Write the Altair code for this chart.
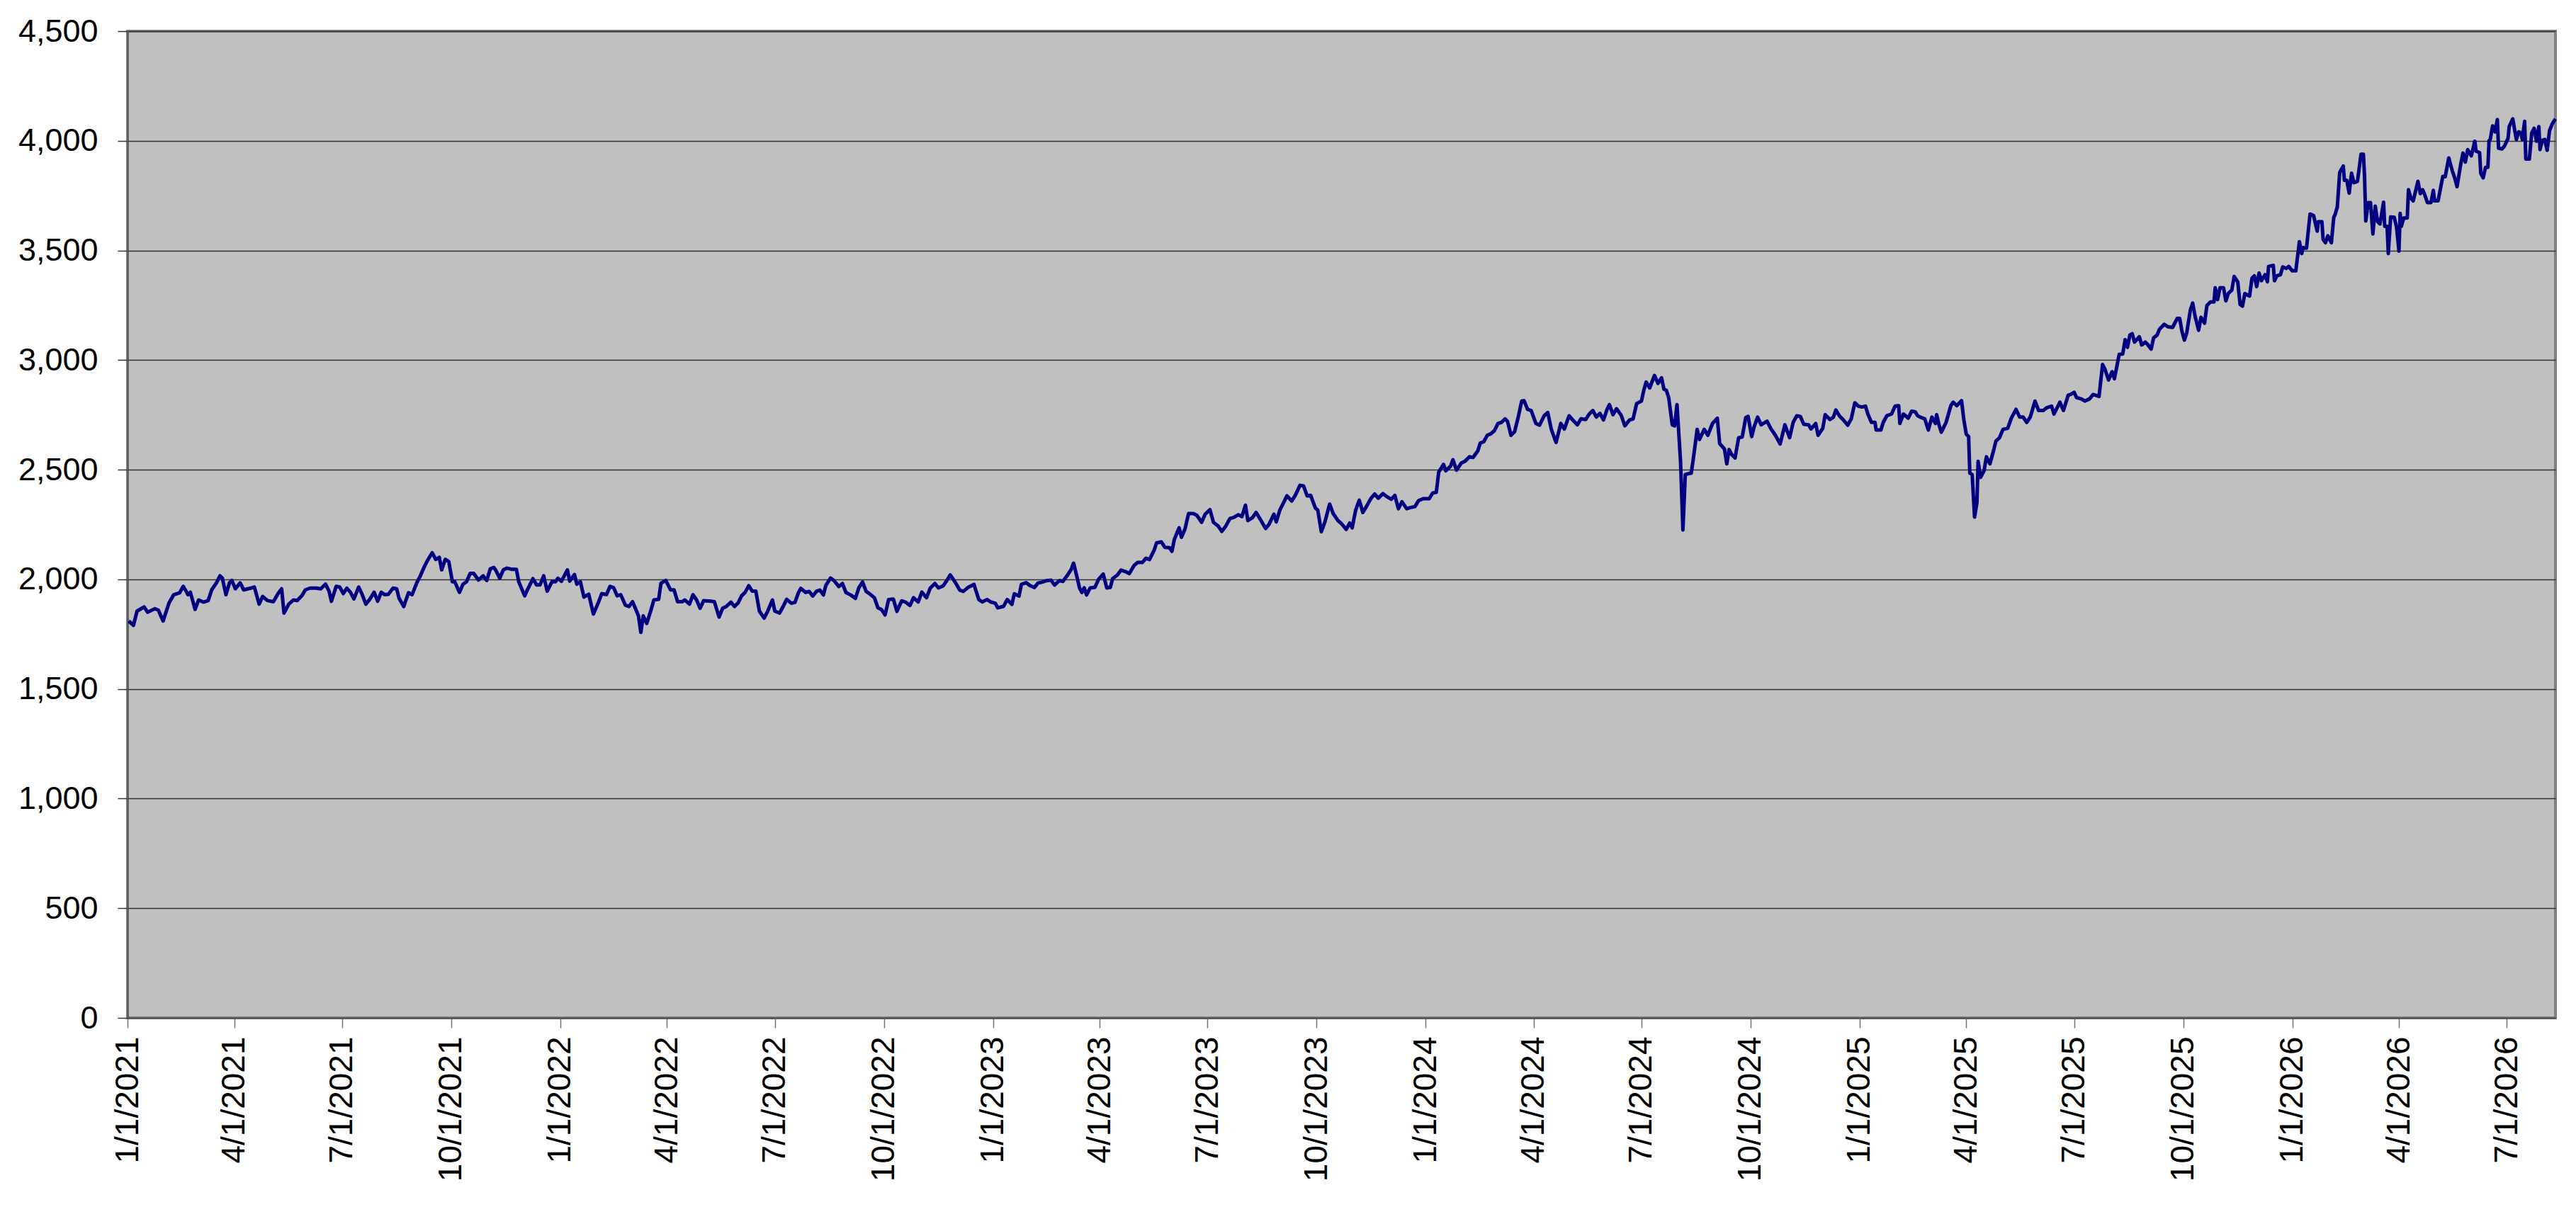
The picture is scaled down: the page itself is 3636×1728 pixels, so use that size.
import datetime as dt
import altair as alt
import pandas as pd

# Day offsets from 1/1/2021 and values, in four stretches
days_a = [1,5,8,14,17,23,26,30,35,39,44,47,51,53,57,60,64,68,71,75,78,80,83,86,88,91,95,98,104,107,
          111,114,118,123,127,130,132,136,140,143,147,150,154,159,163,167,170,172,176,179,182,185,188,191,195,198,201,204,208,211,
          214,217,220,224,227,229,233,237,240,244,247,250,253,257,260,263,265,268,271,274,276,280,283,286,289,292,296,300,303,306,
          309,311,314,317,320,324,328,330,335,338,342,345,348,351,354,358,361,363,366,371,373,377,379,382,385,389,393,397,400,404,
          407,410,413,416,420,423,426,429,431,433,435,438,441,444,448,450,454,458,461,464,468,470,474,477,480,483,486,492,495,499,
          502,505,509,512,515,518,521,524,527,530,533,537,540,544,546,550,553,556]
vals_a = [1810,1790,1855,1874,1850,1866,1860,1810,1892,1930,1939,1968,1930,1941,1863,1906,1896,1903,1952,1984,
          2016,2005,1930,1984,1995,1957,1984,1952,1960,1965,1887,1922,1903,1898,1935,1957,1846,1887,1906,1903,
          1925,1952,1960,1960,1957,1978,1946,1900,1968,1965,1935,1960,1941,1911,1965,1930,1887,1906,1941,1900,
          1941,1930,1932,1960,1957,1914,1876,1939,1930,1984,2016,2054,2086,2121,2091,2100,2043,2091,2081,1989,
          1989,1941,1978,1989,2027,2027,1997,2016,1995,2048,2054,2038,2005,2043,2051,2046,2046,1989,1925,1960,
          2003,1975,1975,2016,1946,1989,1989,2005,1991,2043,1992,2022,1978,1989,1919,1932,1842,1892,1935,1930,
          1968,1962,1925,1930,1882,1876,1898,1860,1833,1758,1833,1799,1850,1906,1909,1982,1995,1952,1952,1898,
          1898,1906,1887,1930,1906,1868,1903,1900,1898,1828,1868,1876,1896,1876,1892,1925,1941,1971,1946,1946,
          1855,1823,1855,1906,1855,1846,1876,1909]

days_b = [560,563,566,568,572,575,578,581,584,587,589,593,596,600,603,606,610,614,617,620,
          623,626,630,633,636,639,642,646,649,653,656,660,663,667,670,674,677,681,684,688,
          691,694,698,702,705,709,714,718,721,725,728,732,734,739,742,746,748,752,754,758,
          761,765,768,772,775,779,782,786,789,793,796,798,800,803,805,807,809,812,816,819,
          823,826,829,831,835,838,842,845,849,852,856,859,862,866,868,872,875,879,881,883,
          887,889,892,895,899,902,906,909,913,916,920,923,926,930,933,937,940,943,945,949,
          952,955,960,963,967,969,972,975,978,982,985,989,992,995,998,1002,1004,1007,1010,1014,
          1017,1021,1024,1028,1031,1033,1036,1039,1042,1045,1049,1052,1055,1059,1062,1066,1069,1072,1075,1079,
          1082,1086,1089,1093]
vals_b = [1891,1895,1940,1959,1940,1945,1924,1945,1951,1929,1972,2006,1994,1967,1981,1940,1929,1913,1963,1988,
          1945,1934,1916,1870,1862,1838,1908,1910,1854,1902,1897,1881,1916,1897,1942,1916,1959,1981,1961,1970,
          1994,2020,1988,1951,1945,1963,1977,1908,1897,1908,1897,1891,1870,1877,1908,1886,1934,1924,1977,1985,
          1972,1963,1983,1988,1994,1996,1974,1994,1991,2020,2045,2074,2031,1961,1940,1961,1929,1961,1963,1999,
          2024,1961,1963,2004,2020,2042,2035,2026,2063,2077,2077,2096,2090,2133,2166,2171,2146,2144,2128,2182,
          2235,2192,2230,2300,2300,2292,2260,2297,2318,2260,2243,2219,2239,2278,2282,2295,2286,2338,2268,2282,
          2305,2278,2232,2252,2297,2262,2316,2348,2381,2357,2383,2429,2426,2381,2383,2325,2316,2217,2262,2343,
          2300,2268,2254,2228,2257,2235,2316,2361,2305,2332,2370,2389,2370,2391,2378,2365,2383,2322,2354,2322,
          2327,2332,2359,2368]

days_c = [1098,1101,1104,1106,1110,1112,1116,1118,1121,1125,1128,1132,1135,1139,1141,1144,1147,1150,1153,1156,
          1159,1162,1164,1167,1170,1173,1176,1178,1181,1184,1188,1191,1195,1198,1201,1205,1209,1212,1216,1219,
          1223,1226,1230,1233,1236,1239,1242,1245,1248,1250,1253,1256,1260,1263,1267,1270,1273,1277,1279,1281,
          1284,1288,1291,1294,1296,1298,1300,1303,1305,1307,1310,1312,1314,1318,1319,1321,1324,1326,1330,1333,
          1337,1341,1343,1347,1349,1351,1353,1356,1359,1362,1365,1367,1370,1372,1375,1378,1383,1386,1390,1394,
          1398,1402,1405,1408,1411,1414,1418,1420,1424,1426,1430,1432,1436,1439,1441,1444,1447,1451,1454,1457,
          1460,1463,1466,1468,1471,1474,1475,1479,1481,1484,1488,1491,1494,1495,1498,1502,1505,1508,1510,1513,
          1516,1519,1522,1525,1526,1528,1530,1534,1538,1540,1543,1547,1549,1551,1553,1554,1556,1558,1560,1561,
          1563,1566,1568,1571,1574,1576,1579,1582,1586,1589,1593,1596,1599,1602,1605,1609,1612,1616,1619,1623,
          1625,1630,1633,1637]
vals_c = [2368,2394,2397,2489,2524,2495,2516,2545,2498,2530,2538,2559,2556,2586,2621,2628,2657,2664,2678,2711,
          2716,2732,2721,2657,2673,2738,2813,2815,2775,2770,2711,2703,2746,2761,2684,2624,2711,2686,2746,2727,
          2705,2732,2729,2754,2770,2740,2757,2727,2775,2797,2751,2778,2748,2700,2727,2732,2802,2813,2862,2900,
          2873,2930,2894,2919,2867,2862,2829,2705,2700,2797,2538,2225,2478,2484,2484,2559,2684,2638,2684,2657,
          2711,2735,2619,2595,2527,2592,2570,2554,2646,2649,2738,2743,2651,2694,2740,2705,2721,2689,2657,2617,
          2705,2646,2716,2746,2743,2707,2705,2686,2711,2657,2689,2751,2729,2740,2772,2746,2729,2703,2732,2805,
          2790,2786,2790,2754,2716,2716,2681,2681,2716,2746,2754,2790,2792,2711,2754,2735,2767,2764,2746,2738,
          2732,2681,2740,2711,2751,2705,2671,2716,2792,2808,2792,2815,2727,2662,2651,2484,2478,2284,2349,2538,
          2465,2495,2559,2527,2586,2630,2646,2684,2689,2735,2775,2740,2740,2716,2740,2813,2770,2770,2783,2790,
          2754,2808,2770,2840]

days_d = [1639,1642,1644,1648,1651,1655,1658,1663,1666,1668,1671,1674,1676,1680,1683,1685,1687,1689,1691,1693,
          1697,1699,1702,1704,1707,1709,1712,1714,1718,1721,1725,1729,1731,1733,1735,1737,1740,1742,1744,1747,
          1749,1752,1754,1757,1760,1761,1763,1765,1768,1770,1772,1775,1777,1780,1782,1784,1786,1790,1792,1794,
          1796,1798,1800,1803,1805,1806,1810,1811,1813,1816,1818,1821,1823,1826,1829,1832,1834,1835,1838,1841,
          1844,1847,1848,1851,1852,1854,1856,1859,1861,1862,1864,1866,1869,1870,1872,1874,1876,1878,1881,1884,
          1886,1887,1888,1890,1892,1894,1896,1898,1900,1903,1904,1906,1907,1909,1912,1914,1916,1917,1918,1920,
          1923,1924,1926,1928,1932,1934,1936,1938,1940,1943,1945,1946,1949,1953,1955,1958,1961,1963,1965,1968,
          1970,1972,1974,1977,1980,1981,1984,1985,1987,1989,1991,1992,1993,1995,1997,1999,2000,2003,2005,2008,
          2009,2012,2015,2017,2019,2020,2022,2023,2026,2028,2030,2032,2034,2035,2037,2039,2041,2043,2045,2046,
          2048]
vals_d = [2843,2853,2829,2823,2813,2823,2843,2834,2980,2958,2909,2947,2915,3026,3028,3093,3058,3114,3120,3082,
          3106,3069,3082,3071,3050,3101,3114,3141,3163,3152,3149,3190,3190,3130,3091,3125,3227,3260,3200,3136,
          3195,3168,3249,3265,3265,3330,3276,3330,3330,3270,3303,3319,3381,3357,3254,3246,3303,3292,3373,3384,
          3335,3397,3362,3389,3357,3427,3432,3362,3384,3389,3425,3418,3427,3407,3407,3540,3486,3513,3511,3666,
          3659,3588,3631,3631,3551,3535,3567,3535,3651,3662,3698,3856,3885,3820,3820,3761,3852,3809,3815,3939,
          3939,3836,3634,3718,3718,3575,3702,3631,3621,3720,3610,3610,3486,3653,3651,3605,3497,3669,3610,3648,
          3648,3777,3739,3726,3815,3759,3777,3750,3718,3718,3774,3726,3726,3838,3836,3922,3863,3831,3791,3890,
          3944,3903,3960,3931,3998,3953,3946,3852,3831,3879,3879,4000,4006,4068,4041,4097,3966,3963,3976,4011,
          4065,4100,4006,4041,4036,4006,4089,3917,3917,4036,4057,3998,4065,3960,4003,4006,3957,4046,4073,4084,
          4100]

y_ticks = [0, 500, 1000, 1500, 2000, 2500, 3000, 3500, 4000, 4500]
x_tick_quarters = [(y, m) for y in range(2021, 2027) for m in (1, 4, 7, 10) if (y, m) <= (2026, 7)]

start = dt.date(2021, 1, 1)
all_days = days_a + days_b + days_c + days_d
all_vals = vals_a + vals_b + vals_c + vals_d
df = pd.DataFrame({
    "date": [(start + dt.timedelta(days=d)).isoformat() for d in all_days],
    "value": all_vals,
})

font = "Liberation Sans"

chart = alt.Chart(df).mark_line(color="#000080", strokeWidth=5, strokeJoin="round").encode(
    x=alt.X("date:T",
            scale=alt.Scale(type="utc",
                            domain=[alt.DateTime(year=2021, month=1, date=1, utc=True),
                                    alt.DateTime(year=2026, month=8, date=11, utc=True)]),
            axis=alt.Axis(title=None,
                          values=[alt.DateTime(year=y, month=m, date=1, utc=True) for y, m in x_tick_quarters],
                          format="%-m/%-d/%Y",
                          labelAngle=270, labelAlign="right", labelBaseline="middle",
                          labelFont=font, labelFontSize=46, labelColor="#000000",
                          labelPadding=12, labelOverlap=False, labelLimit=500,
                          tickSize=14, tickColor="#707070", tickWidth=1.5,
                          domainColor="#555555", domainWidth=2, grid=False)),
    y=alt.Y("value:Q",
            scale=alt.Scale(domain=[0, 4500], nice=False, zero=True),
            axis=alt.Axis(title=None, values=y_ticks, format=",d",
                          labelFont=font, labelFontSize=45, labelColor="#000000",
                          labelPadding=28, labelLimit=500,
                          tickSize=14, tickColor="#333333", tickWidth=1.5,
                          domainColor="#555555", domainWidth=2,
                          grid=True, gridColor="#303030", gridWidth=1.5)),
).properties(
    width=3427,
    height=1393,
    background="#FFFFFF",
    autosize=alt.AutoSizeParams(type="none"),
    padding={"left": 172, "top": 36, "right": 20, "bottom": 260},
).configure_view(
    fill="#C0C0C0", stroke="#808080", strokeWidth=4
)

chart.save("out.html", embed_options={"renderer": "svg", "actions": False})
